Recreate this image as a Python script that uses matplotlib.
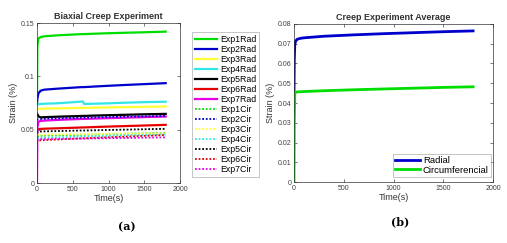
import matplotlib
matplotlib.use("Agg")
import matplotlib.pyplot as plt

plt.rcParams['font.family'] = ['Liberation Sans', 'DejaVu Sans']

# ---- data ----
t = [0, 5, 20, 50, 100, 300, 600, 640, 660, 900, 1200, 1500, 1800]

exp1_rad = [0.075, 0.128, 0.1355, 0.1368, 0.1375, 0.1385, 0.1395, 0.1396, 0.1396, 0.1402, 0.1408, 0.1413, 0.1419]
exp2_rad = [0.075, 0.079, 0.084, 0.0865, 0.0875, 0.0885, 0.0898, 0.0899, 0.0899, 0.0908, 0.0918, 0.0927, 0.0936]
exp3_rad = [0.069, 0.0693, 0.0695, 0.0696, 0.0697, 0.0700, 0.0704, 0.0704, 0.0704, 0.0707, 0.0711, 0.0714, 0.0717]
exp4_rad = [0.0725, 0.0735, 0.0739, 0.0741, 0.0743, 0.0748, 0.0762, 0.0765, 0.0741, 0.0745, 0.0752, 0.0758, 0.0762]
exp5_rad = [0.065, 0.0645, 0.0625, 0.0615, 0.0617, 0.0622, 0.0628, 0.0629, 0.0629, 0.0634, 0.0639, 0.0644, 0.0648]
exp6_rad = [0.050, 0.0503, 0.0505, 0.0507, 0.0509, 0.0513, 0.0520, 0.0521, 0.0521, 0.0527, 0.0533, 0.0539, 0.0545]
exp7_rad = [0.000, 0.052, 0.0575, 0.0582, 0.0585, 0.0592, 0.0600, 0.0601, 0.0601, 0.0606, 0.0612, 0.0618, 0.0623]
exp1_cir = [0.044, 0.0441, 0.0442, 0.0443, 0.0444, 0.0447, 0.0452, 0.0452, 0.0452, 0.0456, 0.0461, 0.0466, 0.0470]
exp2_cir = [0.059, 0.0595, 0.0598, 0.0600, 0.0602, 0.0606, 0.0612, 0.0612, 0.0612, 0.0617, 0.0621, 0.0625, 0.0629]
exp3_cir = [0.045, 0.0451, 0.0452, 0.0453, 0.0454, 0.0456, 0.0458, 0.0458, 0.0458, 0.0460, 0.0462, 0.0464, 0.0466]
exp4_cir = [0.042, 0.0421, 0.0422, 0.0423, 0.0424, 0.0428, 0.0435, 0.0435, 0.0435, 0.0440, 0.0445, 0.0450, 0.0455]
exp5_cir = [0.047, 0.0478, 0.0481, 0.0483, 0.0484, 0.0487, 0.0492, 0.0492, 0.0492, 0.0496, 0.0500, 0.0504, 0.0508]
exp6_cir = [0.038, 0.0395, 0.0398, 0.0400, 0.0402, 0.0408, 0.0418, 0.0419, 0.0419, 0.0426, 0.0434, 0.0442, 0.0450]
exp7_cir = [0.040, 0.0405, 0.0408, 0.0410, 0.0411, 0.0413, 0.0416, 0.0416, 0.0416, 0.0419, 0.0422, 0.0425, 0.0428]

rad_labels = ['Exp1Rad', 'Exp2Rad', 'Exp3Rad', 'Exp4Rad', 'Exp5Rad', 'Exp6Rad', 'Exp7Rad']
cir_labels = ['Exp1Cir', 'Exp2Cir', 'Exp3Cir', 'Exp4Cir', 'Exp5Cir', 'Exp6Cir', 'Exp7Cir']

t_avg = [0, 3, 8, 15, 30, 60, 100, 300, 600, 900, 1200, 1500, 1800]
avg_radial = [0.045, 0.062, 0.0695, 0.0712, 0.0722, 0.0727, 0.0730, 0.0738, 0.0745, 0.0751, 0.0756, 0.0761, 0.0765]
avg_circ = [0.000, 0.030, 0.0452, 0.0455, 0.0456, 0.0457, 0.0458, 0.0462, 0.0467, 0.0471, 0.0475, 0.0479, 0.0482]

colors = ['#00dd00', '#0000cc', '#ffff33', '#33e6e6', '#000000', '#e60000', '#e600e6']

rads = [exp1_rad, exp2_rad, exp3_rad, exp4_rad, exp5_rad, exp6_rad, exp7_rad]
cirs = [exp1_cir, exp2_cir, exp3_cir, exp4_cir, exp5_cir, exp6_cir, exp7_cir]

fig = plt.figure(figsize=(5.07, 2.43), dpi=100)
W, H = 507, 243

def ax_at(x0, y0, x1, y1):
    return fig.add_axes([x0 / W, 1 - y1 / H, (x1 - x0) / W, (y1 - y0) / H])

tick_color = '#404040'

def style(ax):
    ax.tick_params(direction='in', length=2, width=0.5, labelsize=5, colors=tick_color,
                   top=True, right=True, pad=2)
    for s in ax.spines.values():
        s.set_linewidth(0.5)
        s.set_color('#333333')

# ---- left panel ----
ax1 = ax_at(37, 23, 180, 183)
for c, v, lab in zip(colors, rads, rad_labels):
    ax1.plot(t, v, color=c, lw=1.6, label=lab)
for c, v, lab in zip(colors, cirs, cir_labels):
    ax1.plot(t, v, color=c, lw=1.3, ls=(0, (1, 1)), label=lab)
ax1.set_xlim(0, 2000)
ax1.set_ylim(0, 0.15)
ax1.set_xticks([0, 500, 1000, 1500, 2000])
ax1.set_yticks([0, 0.05, 0.1, 0.15])
ax1.set_yticklabels(['0', '0.05', '0.1', '0.15'])
style(ax1)
ax1.set_title('Biaxial Creep Experiment', fontsize=6.5, fontweight='bold', color='#333333', pad=3)
ax1.set_xlabel('Time(s)', fontsize=6.5, color='#333333', labelpad=1)
ax1.set_ylabel('Strain (%)', fontsize=6.5, color='#333333', labelpad=2)
leg1 = ax1.legend(loc='upper left', bbox_to_anchor=(192 / W, 1 - 32 / H), bbox_transform=fig.transFigure,
                  fontsize=6.3, handlelength=2.6, handletextpad=0.3, labelspacing=0.12,
                  borderpad=0.3, borderaxespad=0, frameon=True, fancybox=False)
leg1.get_frame().set_linewidth(0.5)
leg1.get_frame().set_edgecolor('#999999')

# ---- right panel ----
ax2 = ax_at(294, 24, 493, 182)
ax2.plot(t_avg, avg_radial, color='#0000cc', lw=2.0, label='Radial')
ax2.plot(t_avg, avg_circ, color='#00dd00', lw=2.0, label='Circumferencial')
ax2.set_xlim(0, 2000)
ax2.set_ylim(0, 0.08)
ax2.set_xticks([0, 500, 1000, 1500, 2000])
ax2.set_yticks([0, 0.01, 0.02, 0.03, 0.04, 0.05, 0.06, 0.07, 0.08])
ax2.set_yticklabels(['0', '0.01', '0.02', '0.03', '0.04', '0.05', '0.06', '0.07', '0.08'])
style(ax2)
ax2.set_title('Creep Experiment Average', fontsize=6.5, fontweight='bold', color='#333333', pad=3)
ax2.set_xlabel('Time(s)', fontsize=6.5, color='#333333', labelpad=1)
ax2.set_ylabel('Strain (%)', fontsize=6.5, color='#333333', labelpad=2)
leg2 = ax2.legend(loc='lower right', bbox_to_anchor=(491 / W, 1 - 177 / H), bbox_transform=fig.transFigure,
                  fontsize=6.8, handlelength=2.6, handletextpad=0.3,
                  labelspacing=0.05, borderpad=0.25, borderaxespad=0, frameon=True, fancybox=False)
leg2.get_frame().set_linewidth(0.5)
leg2.get_frame().set_edgecolor('#999999')

fig.text(127 / W, 1 - 227 / H, '(a)', fontsize=8, family='DejaVu Serif', fontweight='bold',
         ha='center', va='center')
fig.text(400 / W, 1 - 222 / H, '(b)', fontsize=8, family='DejaVu Serif', fontweight='bold',
         ha='center', va='center')

fig.savefig('out.png', dpi=100)
